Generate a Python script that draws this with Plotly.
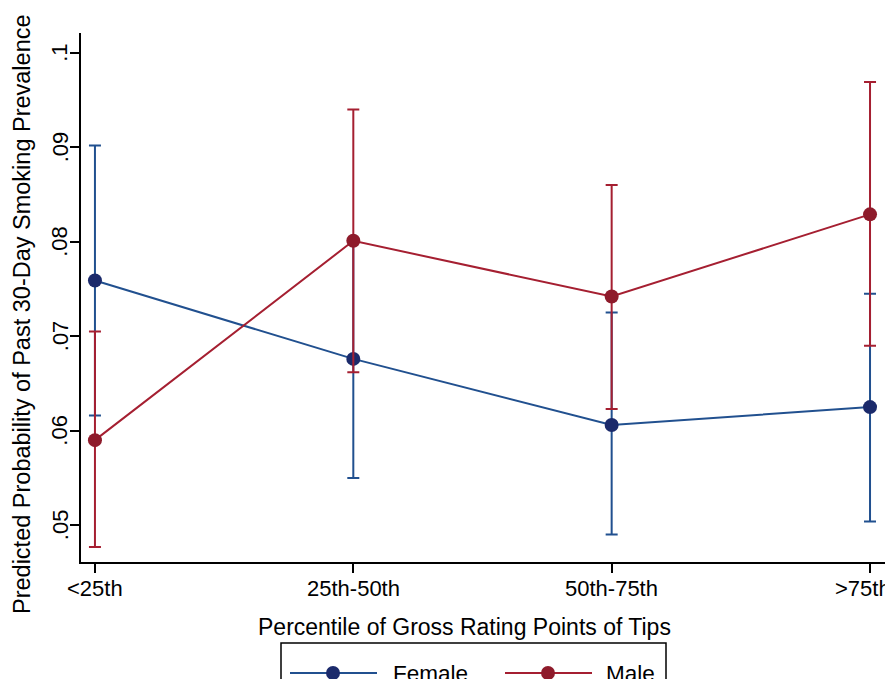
import plotly.graph_objects as go

categories = ['<25th', '25th-50th', '50th-75th', '>75th']
female = [0.0759, 0.0676, 0.0606, 0.0625]
female_lo = [0.0616, 0.0550, 0.0490, 0.0504]
female_hi = [0.0902, 0.0802, 0.0725, 0.0745]
male = [0.0590, 0.0801, 0.0742, 0.0829]
male_lo = [0.0477, 0.0662, 0.0623, 0.0690]
male_hi = [0.0705, 0.0940, 0.0860, 0.0969]
y_ticks = [0.05, 0.06, 0.07, 0.08, 0.09, 0.1]
y_ticktext = ['.05', '.06', '.07', '.08', '.09', '.1']

# page body has an 8px default margin; work in window pixels and offset
OFF = 8
W, H = 893 - OFF, 679 - OFF
PLOT_X0, PLOT_X1, PLOT_Y0, PLOT_Y1 = 81, 885, 33, 562   # window px
L = PLOT_X0 - OFF
R = W - (PLOT_X1 - OFF)
T = PLOT_Y0 - OFF
B = H - (PLOT_Y1 - OFF)
PW, PH = W - L - R, H - T - B

FONT = 'Liberation Sans, Arial, sans-serif'
F_LINE, F_MARK = '#21508f', '#1b2a6b'
M_LINE, M_MARK = '#a51f31', '#8e1b2b'


def px(x):
    return (x - OFF - L) / PW


def py(y):
    return (H - B - (y - OFF)) / PH


xs = list(range(len(categories)))


def trace(name, vals, lo, hi, lc, mc):
    return go.Scatter(
        x=xs, y=vals, name=name, mode='lines+markers',
        line=dict(color=lc, width=2),
        marker=dict(color=mc, size=14, line=dict(width=0)),
        error_y=dict(type='data', symmetric=False,
                     array=[h - v for h, v in zip(hi, vals)],
                     arrayminus=[v - l for v, l in zip(vals, lo)],
                     color=lc, thickness=2, width=6),
        showlegend=False, cliponaxis=False)


fig = go.Figure()
fig.add_trace(trace('Female', female, female_lo, female_hi, F_LINE, F_MARK))
fig.add_trace(trace('Male', male, male_lo, male_hi, M_LINE, M_MARK))

fig.update_layout(
    width=W, height=H,
    margin=dict(l=L, r=R, t=T, b=B, autoexpand=False),
    paper_bgcolor='white', plot_bgcolor='white',
    font=dict(family=FONT, size=22, color='black'),
    xaxis=dict(range=[-0.054, 3.058], tickvals=xs, showticklabels=False,
               showgrid=False, zeroline=False, showline=True,
               linecolor='black', linewidth=2, ticks='outside', ticklen=9,
               tickwidth=2, tickcolor='black'),
    yaxis=dict(range=[0.0461, 0.1021], tickvals=y_ticks, showticklabels=False,
               showgrid=False, zeroline=False, showline=True,
               linecolor='black', linewidth=2, ticks='outside', ticklen=9,
               tickwidth=2, tickcolor='black'),
)

annotations = []
# x tick labels
for i, lab in enumerate(categories):
    annotations.append(dict(
        text=lab, x=xs[i], y=py(588), xref='x', yref='paper',
        showarrow=False, xanchor='center', yanchor='middle',
        xshift=-7 if i == len(categories) - 1 else 0,
        font=dict(size=22)))
# y tick labels (rotated)
for v, lab in zip(y_ticks, y_ticktext):
    annotations.append(dict(
        text=lab, x=px(60), y=v, xref='paper', yref='y', textangle=-90,
        showarrow=False, xanchor='center', yanchor='middle',
        font=dict(size=22)))

annotations += [
    dict(text='Predicted Probability of Past 30-Day Smoking Prevalence',
         x=px(22), y=py(314), xref='paper', yref='paper', textangle=-90,
         showarrow=False, xanchor='center', yanchor='middle',
         font=dict(size=23.5)),
    dict(text='Percentile of Gross Rating Points of Tips',
         x=px(464), y=py(627), xref='paper', yref='paper',
         showarrow=False, xanchor='center', yanchor='middle',
         font=dict(size=23)),
    dict(text='Female', x=px(391), y=py(673), xref='paper', yref='paper',
         showarrow=False, xanchor='left', yanchor='middle', font=dict(size=22.5)),
    dict(text='Male', x=px(604), y=py(673), xref='paper', yref='paper',
         showarrow=False, xanchor='left', yanchor='middle', font=dict(size=22.5)),
]

ly = py(673)
shapes = [
    dict(type='rect', xref='paper', yref='paper', x0=px(281), x1=px(666),
         y0=py(643), y1=py(710), line=dict(color='black', width=1.5),
         fillcolor='rgba(0,0,0,0)'),
    dict(type='line', xref='paper', yref='paper', x0=px(290), x1=px(377),
         y0=ly, y1=ly, line=dict(color=F_LINE, width=2)),
    dict(type='line', xref='paper', yref='paper', x0=px(505), x1=px(592),
         y0=ly, y1=ly, line=dict(color=M_LINE, width=2)),
]
for cx, col in [(333, F_MARK), (548, M_MARK)]:
    shapes.append(dict(type='circle', xref='paper', yref='paper',
                       xsizemode='pixel', ysizemode='pixel',
                       xanchor=px(cx), yanchor=ly,
                       x0=-7, x1=7, y0=-7, y1=7,
                       fillcolor=col, line=dict(width=0)))

fig.update_layout(annotations=annotations, shapes=shapes)
fig.write_html('out.html')
